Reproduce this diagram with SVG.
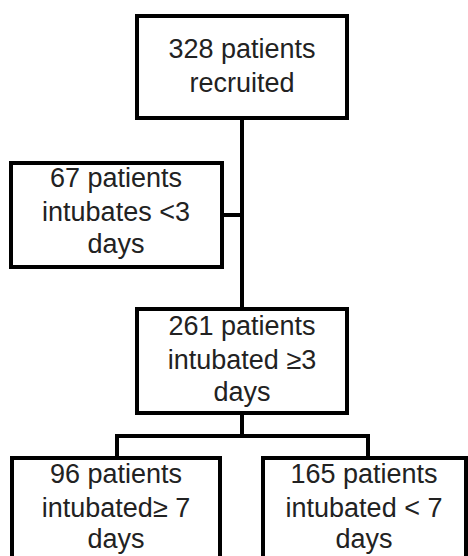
<svg xmlns="http://www.w3.org/2000/svg" width="468" height="556" viewBox="0 0 468 556">
<style>
.box{fill:#fff;stroke:#000;stroke-width:4}
.ln{fill:none;stroke:#000;stroke-width:4}
text{font-family:"Liberation Sans",Arial,sans-serif;font-size:27px;fill:#222;text-anchor:middle}
</style>
<rect width="468" height="556" fill="#fff"/>
<g id="connectors">
<path class="ln" d="M242 118V308"/>
<path class="ln" d="M222 215H242"/>
<path class="ln" d="M242 413V436M117 436H368M117 434V458M368 434V458"/>
</g>
<g id="n1">
<rect class="box" x="137" y="16" width="210" height="102"/>
<text x="242" y="58">328 patients</text>
<text x="242" y="92">recruited</text>
</g>
<g id="n2">
<rect class="box" x="11" y="163" width="211" height="104"/>
<text x="116" y="187">67 patients</text>
<text x="116" y="221">intubates &lt;3</text>
<text x="116" y="253">days</text>
</g>
<g id="n3">
<rect class="box" x="137" y="309" width="210" height="104"/>
<text x="242" y="335">261 patients</text>
<text x="242" y="369">intubated ≥3</text>
<text x="242" y="401">days</text>
</g>
<g id="n4">
<rect class="box" x="12" y="458" width="208" height="110"/>
<text x="116" y="483">96 patients</text>
<text x="116" y="517">intubated≥ 7</text>
<text x="116" y="548">days</text>
</g>
<g id="n5">
<rect class="box" x="263" y="458" width="203" height="110"/>
<text x="364" y="483">165 patients</text>
<text x="364" y="517">intubated &lt; 7</text>
<text x="364" y="548">days</text>
</g>
</svg>
